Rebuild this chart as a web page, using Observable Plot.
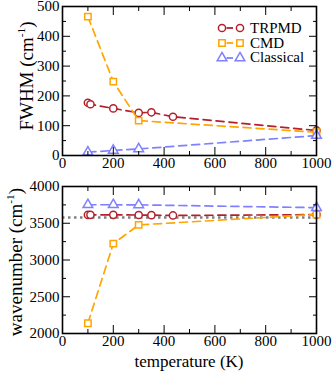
<!DOCTYPE html>
<html><head><meta charset="utf-8">
<script src="https://cdn.jsdelivr.net/npm/d3@7"></script>
<script src="https://cdn.jsdelivr.net/npm/@observablehq/plot@0.6"></script>
<style>
body{margin:0;background:#fff;font-family:"Liberation Serif",serif;}
#wrap{position:relative;width:332px;height:371px;overflow:hidden;font-family:"Liberation Serif",serif;color:#000;}
#wrap svg{overflow:visible;}
#wrap svg text, #wrap svg tspan{font-family:"Liberation Serif",serif !important;font-variant:normal !important;}
.p{position:absolute;left:0;}
.lab{position:absolute;white-space:nowrap;line-height:1;font-family:"Liberation Serif",serif;}
.rot{transform:translate(-50%,-50%) rotate(-90deg);font-size:19px;}
.hor{transform:translateX(-50%);font-size:17px;}
sup{font-size:60%;line-height:0;vertical-align:0.65em;}
#legend{position:absolute;left:214px;top:21px;font-size:15px;line-height:1;}
#legend .row{display:flex;align-items:center;height:14.7px;}
#legend svg{margin-right:4px;}
</style>
</head><body>
<div id="wrap">
  <div id="topPanel" class="p" style="top:0"></div>
  <div id="botPanel" class="p" style="top:185px"></div>
  <div class="lab rot" style="left:25.6px;top:76px">FWHM (cm<sup>-1</sup>)</div>
  <div class="lab rot" style="left:15px;top:262px">wavenumber (cm<sup>-1</sup>)</div>
  <div class="lab hor" style="left:189px;top:352.8px">temperature (K)</div>
  <div id="legend"></div>
</div>
<script>
// ---- data ----
const trpmdT = [100, 110, 200, 300, 350, 435, 1000];
const trpmdFwhm = [177, 172, 158, 143, 145, 130, 84];
const trpmdWn = [3614, 3614, 3614, 3612, 3610, 3606, 3617];

const cmdT = [100, 200, 300, 1000];
const cmdFwhm = [466, 248, 117, 78];
const cmdWn = [2140, 3222, 3478, 3619];

const classicalT = [100, 200, 300, 1000];
const classicalFwhm = [11, 17, 22, 67];
const classicalWn = [3752, 3752, 3750, 3712];

const refWn = 3578;
const refT = [0, 1000];

const seriesNames = ["TRPMD", "CMD", "Classical"];
const seriesColors = ["#b3202c", "#ffa500", "#8080ff"];
const seriesSymbols = ["circle", "square", "triangle"];

const xMajor = [0, 200, 400, 600, 800, 1000];
const xMinor = [100, 300, 500, 700, 900];
const fwhmMajor = [0, 100, 200, 300, 400, 500];
const fwhmMinor = [50, 150, 250, 350, 450];
const wnMajor = [2000, 2500, 3000, 3500, 4000];
const wnMinor = [2250, 2750, 3250, 3750];

// ---- build ----
const rows = (T, F, W) => T.map((t, i) => ({t, fwhm: F[i], wn: W[i]}));
const series = [
  rows(trpmdT, trpmdFwhm, trpmdWn),
  rows(cmdT, cmdFwhm, cmdWn),
  rows(classicalT, classicalFwhm, classicalWn)
];

const serif = "Liberation Serif";
const blank = () => "";
const plain = d3.format("d");
function frameAxes(yMajor, yMinor) {
  return [
    Plot.axisX({anchor: "bottom", ticks: xMajor, tickSize: -8, tickFormat: blank, label: null}),
    Plot.axisX({anchor: "bottom", ticks: xMinor, tickSize: -4, tickFormat: blank, label: null}),
    Plot.axisX({anchor: "top", ticks: xMajor, tickSize: -8, tickFormat: blank, label: null}),
    Plot.axisX({anchor: "top", ticks: xMinor, tickSize: -4, tickFormat: blank, label: null}),
    Plot.axisY({anchor: "left", ticks: yMajor, tickSize: -8, tickFormat: blank, label: null}),
    Plot.axisY({anchor: "left", ticks: yMinor, tickSize: -4, tickFormat: blank, label: null}),
    Plot.axisY({anchor: "right", ticks: yMajor, tickSize: -8, tickFormat: blank, label: null}),
    Plot.axisY({anchor: "right", ticks: yMinor, tickSize: -4, tickFormat: blank, label: null}),
    Plot.axisX({anchor: "bottom", ticks: xMajor, tickSize: 0, tickPadding: 2, tickFormat: plain, label: null, fontFamily: serif, fontSize: 15, fill: "#000"}),
    Plot.axisY({anchor: "left", ticks: yMajor, tickSize: 0, tickPadding: 3, tickFormat: plain, label: null, fontFamily: serif, fontSize: 15, fill: "#000"}),
    Plot.frame({stroke: "#000", strokeWidth: 1.6})
  ];
}
function seriesMarks(key) {
  const out = [];
  series.forEach((data, i) => {
    out.push(Plot.line(data, {x: "t", y: key, stroke: seriesColors[i], strokeWidth: 1.7, strokeDasharray: "8,5"}));
    out.push(Plot.dot(data, {x: "t", y: key, symbol: seriesSymbols[i], r: 3.6, stroke: seriesColors[i], fill: "white", strokeWidth: 1.5}));
  });
  return out;
}
const chartStyle = {fontFamily: serif, fontSize: "15px", background: "transparent", color: "#000", overflow: "visible"};

function forceSerif(svg) {
  d3.select(svg).attr("font-family", serif).style("font-family", serif);
  d3.select(svg).selectAll("g, text, tspan")
    .attr("font-family", serif).style("font-family", serif).attr("font-variant", null).style("font-variant", "normal");
  return svg;
}

const topChart = Plot.plot({
  width: 332, height: 185,
  marginTop: 6, marginBottom: 30, marginLeft: 62, marginRight: 16,
  style: chartStyle,
  x: {domain: [0, 1000]},
  y: {domain: [0, 500]},
  marks: [...seriesMarks("fwhm"), ...frameAxes(fwhmMajor, fwhmMinor)]
});
document.getElementById("topPanel").appendChild(forceSerif(topChart));

const botChart = Plot.plot({
  width: 332, height: 186,
  marginTop: 1, marginBottom: 38, marginLeft: 62, marginRight: 16,
  style: chartStyle,
  x: {domain: [0, 1000]},
  y: {domain: [2000, 4000]},
  marks: [
    Plot.ruleY([{y: refWn, x1: refT[0], x2: refT[1]}], {y: "y", x1: "x1", x2: "x2", stroke: "#808080", strokeWidth: 2.5, strokeDasharray: "2.5,3.5"}),
    ...seriesMarks("wn"),
    ...frameAxes(wnMajor, wnMinor)
  ]
});
document.getElementById("botPanel").appendChild(forceSerif(botChart));

// ---- legend ----
const legendEl = document.getElementById("legend");
const symPath = (s) => d3.symbol(d3["symbol" + s[0].toUpperCase() + s.slice(1)], Math.PI * 3.6 * 3.6)();
seriesNames.forEach((name, i) => {
  const row = document.createElement("div");
  row.className = "row";
  const c = seriesColors[i];
  row.innerHTML = `<svg width="32" height="14" viewBox="-8 -7 32 14">
    <line x1="4.5" x2="11" y1="0" y2="0" stroke="${c}" stroke-width="1.8"/>
    <path d="${symPath(seriesSymbols[i])}" fill="white" stroke="${c}" stroke-width="1.5"/>
    <path transform="translate(18,0)" d="${symPath(seriesSymbols[i])}" fill="white" stroke="${c}" stroke-width="1.5"/>
  </svg><span>${name}</span>`;
  legendEl.appendChild(row);
});
</script>
</body></html>
